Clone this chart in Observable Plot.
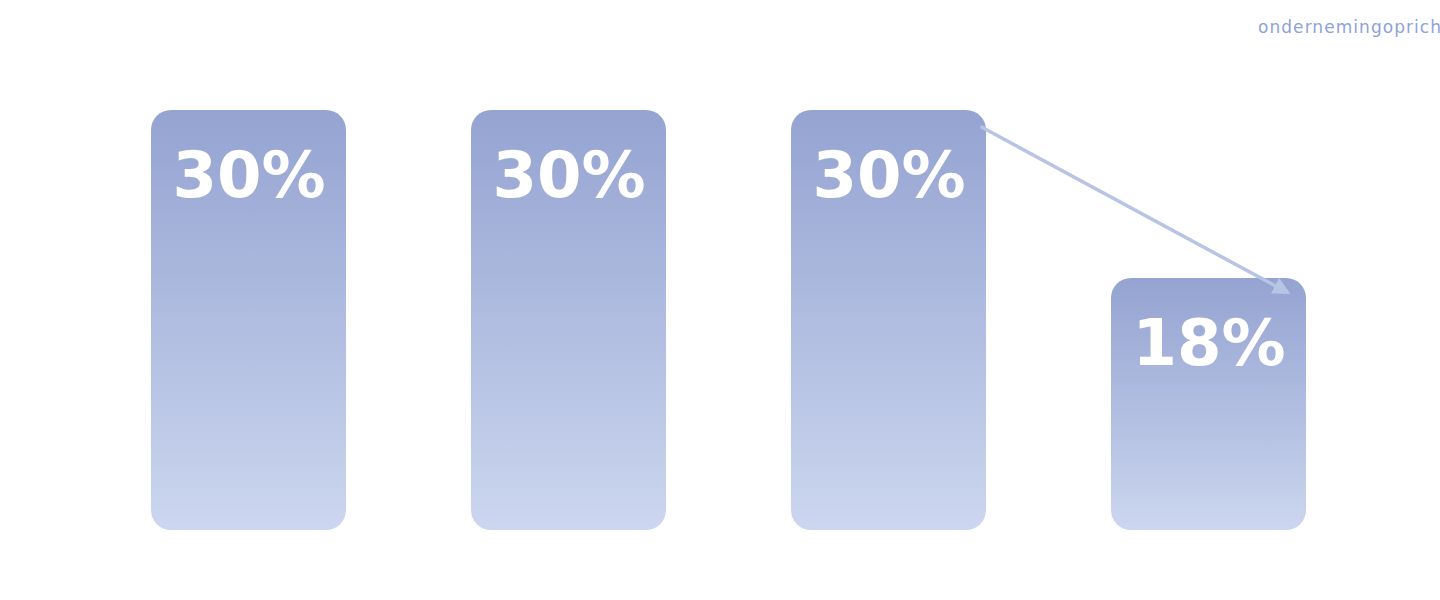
<!DOCTYPE html>
<html>
<head>
<meta charset="utf-8">
<script src="https://cdn.jsdelivr.net/npm/d3@7"></script>
<script src="https://cdn.jsdelivr.net/npm/@observablehq/plot@0.6"></script>
<style>
  html, body { margin: 0; padding: 0; background: #fff; overflow: hidden; }
  #wrap { position: relative; width: 1440px; height: 600px; overflow: hidden; }
  #brand { position: absolute; left: 1258px; top: 17px; white-space: nowrap;
    font-family: "DejaVu Sans", sans-serif; font-size: 17px; letter-spacing: 1.05px; color: #8ea2da; }
</style>
</head>
<body>
<div id="wrap"><div id="brand">ondernemingoprichten.nl</div></div>
<script>
const categories = ["1", "2", "3", "4"];
const values = [30, 30, 30, 18];
const labels = ["30%", "30%", "30%", "18%"];
// arrow from bar 3 to bar 4
const arrowFrom = ["3", 28.86];
const arrowTo = ["4", 16.5];

const data = categories.map((c, i) => ({cat: c, value: values[i], label: labels[i]}));
const arrowData = [{x1: arrowFrom[0], y1: arrowFrom[1], x2: arrowTo[0], y2: arrowTo[1]}];

const chart = Plot.plot({
  width: 1440,
  height: 600,
  marginLeft: 88.5,
  marginRight: 71.5,
  marginTop: 110,
  marginBottom: 70,
  x: {domain: categories, paddingInner: 0.390625, paddingOuter: 0.1953125, align: 0.5, axis: null},
  y: {domain: [0, 30], axis: null},
  marks: [
    Plot.barY(data, {x: "cat", y: "value", fill: "url(#barGrad)", rx: 20, ry: 20}),
    Plot.text(data, {x: "cat", y: "value", text: "label", lineAnchor: "top", dy: 41.5,
      fill: "white", fontSize: 64, fontWeight: "bold", fontFamily: "DejaVu Sans"}),
    Plot.link(arrowData, {x1: "x1", y1: "y1", x2: "x2", y2: "y2", dx: 91.5,
      stroke: "#b8c4e4", strokeWidth: 3.5})
  ]
});

const svg = d3.select(chart);
const defs = svg.insert("defs", ":first-child");
const g = defs.append("linearGradient").attr("id", "barGrad")
  .attr("x1", 0).attr("y1", 0).attr("x2", 0).attr("y2", 1);
g.append("stop").attr("offset", "0%").attr("stop-color", "#94a3d1");
g.append("stop").attr("offset", "100%").attr("stop-color", "#ccd6ef");
const m = defs.append("marker").attr("id", "ahead").attr("viewBox", "0 0 10 10")
  .attr("refX", 16.5).attr("refY", 5).attr("markerWidth", 7.5).attr("markerHeight", 5)
  .attr("markerUnits", "strokeWidth").attr("orient", "auto").attr("overflow", "visible");
m.append("path").attr("d", "M0,0L10,5L0,10Z").attr("fill", "#b8c4e4");

document.getElementById("wrap").prepend(chart);
svg.selectAll("[aria-label=link] path").each(function() {
  const L = this.getTotalLength();
  d3.select(this).attr("marker-end", "url(#ahead)")
    .attr("stroke-dasharray", `${L - 24} 2000`);
});
</script>
</body>
</html>
